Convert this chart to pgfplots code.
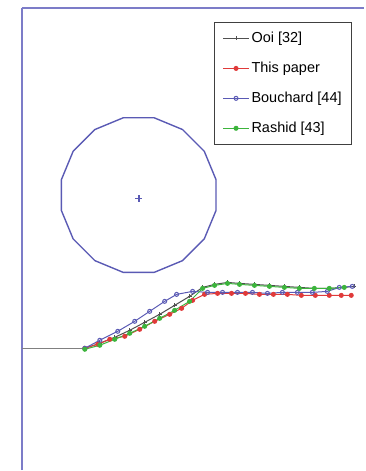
\documentclass[border=0pt]{standalone}
\usepackage{pgfplots}
\pgfplotsset{compat=1.18}
\usepackage{fontspec}
\setmainfont{Liberation Sans}
\definecolor{axblue}{HTML}{7C7CC8}
\definecolor{cblue}{HTML}{5A5AB4}
\definecolor{cred}{HTML}{E03A3A}
\definecolor{cgreen}{HTML}{3CB43C}
\definecolor{cgray}{HTML}{505050}
\begin{document}
\begin{tikzpicture}
\begin{axis}[
  scale only axis, width=343pt, height=463pt,
  xmin=22, xmax=365, ymin=0, ymax=463,
  axis x line=top, axis y line=left,
  axis line style={draw=axblue, line width=2pt, -},
  xtick=\empty, ytick=\empty,
  clip=false,
  legend style={at={(rel axis cs:0.965,0.970)}, anchor=north east,
    draw=black!75, line width=1.3pt, font=\fontsize{14.5}{17}\selectfont,
    inner xsep=8pt, inner ysep=8pt, row sep=14pt, cells={anchor=west}},
  legend image code/.code={\draw[mark repeat=2,mark phase=2,#1] plot coordinates {(0pt,0pt) (13pt,0pt) (26pt,0pt)};},
  every axis plot/.append style={line width=1pt, mark size=2pt},
]
\addplot[cgray, mark=+, mark options={line width=1pt}] coordinates {
(85,122)(100,127)(115,133)(130,140)(145,148)(160,156)(175,165)(190,174)(203,183)(215,186)(228,188)(240,187)(255,186)(270,185)(285,184)(300,183)(315,182)(330,182)(345,183)(355,184)};
\addlegendentry{Ooi [32]}
\addplot[cred, mark=*] coordinates {
(85,122)(98,126)(110,131)(125,134)(140,141)(155,149)(170,156)(182,162)(193,170)(205,176)(218,177)(232,177)(246,177)(260,176)(274,176)(288,176)(302,175)(316,175)(330,175)(342,175)(352,175)};
\addlegendentry{This paper}
\addplot[cblue, mark=o, mark options={fill=white}] coordinates {
(85,122)(100,130)(118,139)(135,149)(150,159)(165,169)(177,176)(193,179)(208,178)(223,178)(238,178)(253,178)(268,177)(283,178)(298,178)(313,178)(328,179)(340,183)(353,184)};
\addlegendentry{Bouchard [44]}
\addplot[cgreen, mark=*] coordinates {
(85,121)(100,125)(115,131)(130,137)(145,144)(160,152)(175,160)(190,169)(203,182)(215,185)(228,187)(240,186)(255,185)(270,184)(285,183)(300,182)(315,182)(330,182)(345,183)};
\addlegendentry{Rashid [43]}
\addplot[gray, line width=1.4pt, no marks, forget plot] coordinates {(22,122)(85,122)};
\addplot[cblue, line width=1.4pt, no marks, forget plot] coordinates {
(216.5,290.9)(204.7,319.4)(182.9,341.2)(154.4,353.0)(123.6,353.0)(95.1,341.2)(73.3,319.4)(61.5,290.9)(61.5,260.1)(73.3,231.6)(95.1,209.8)(123.6,198.0)(154.4,198.0)(182.9,209.8)(204.7,231.6)(216.5,260.1)(216.5,290.9)};
\addplot[cblue, only marks, mark=+, mark size=3.5pt, mark options={line width=1.6pt}, forget plot] coordinates {(139,272)};
\end{axis}
\path (-22pt,0pt) rectangle (343pt,471pt);
\end{tikzpicture}
\end{document}
